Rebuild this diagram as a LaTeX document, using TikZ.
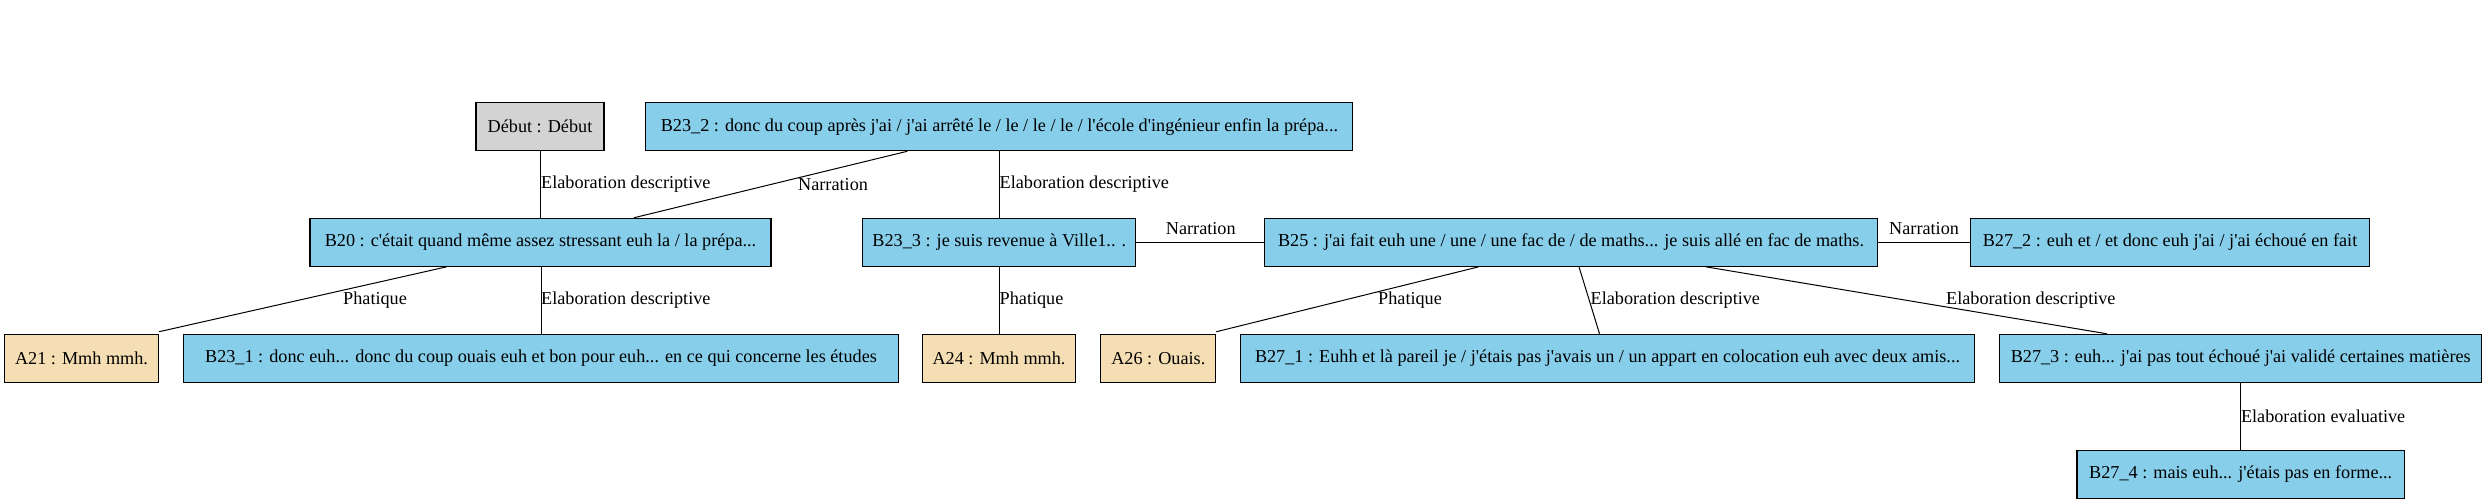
\documentclass[tikz,border=0pt]{standalone}
\usepackage{fontspec}
\setmainfont{Liberation Serif}[Ligatures=TeXOff]
\begin{document}
\begin{tikzpicture}[x=1bp,y=-1bp,
  every node/.style={font=\fontsize{18.2bp}{22bp}\selectfont},
  box/.style={draw=black,line width=1.1bp,minimum height=48bp,inner sep=0pt,align=center},
  blue/.style={box,fill=bluebox},
  wheat/.style={box,fill=wheatbox},
  gray/.style={box,fill=graybox},
  lab/.style={anchor=west,inner sep=0pt},
  edge/.style={draw=black,line width=1bp}]
\definecolor{bluebox}{HTML}{87CEEB}
\definecolor{wheatbox}{HTML}{F5DEB3}
\definecolor{graybox}{HTML}{D3D3D3}
\useasboundingbox (0,0) rectangle (2487,504);
% nodes
\node[gray,minimum width=128bp] (debut) at (540,126.7) {Début : Début};
\node[blue,minimum width=707bp] (b232) at (999.4,126.7) {B23\_2 : donc du coup après j'ai / j'ai arrêté le / le / le / le / l'école d'ingénieur enfin la prépa...};
\node[blue,minimum width=461bp] (b20) at (540.5,242.3) {B20 : c'était quand même assez stressant euh la / la prépa...};
\node[blue,minimum width=273bp] (b233) at (999.3,242.3) {B23\_3 : je suis revenue à Ville1.. .};
\node[blue,minimum width=613.5bp] (b25) at (1571,242.3) {B25 : j'ai fait euh une / une / une fac de / de maths... je suis allé en fac de maths.};
\node[blue,minimum width=399.4bp] (b272) at (2170,242.3) {B27\_2 : euh et / et donc euh j'ai / j'ai échoué en fait};
\node[wheat,minimum width=153.8bp] (a21) at (81.5,358.3) {A21 : Mmh mmh.};
\node[blue,minimum width=714.7bp] (b231) at (541,358.3) {B23\_1 : donc euh... donc du coup ouais euh et bon pour euh... en ce qui concerne les études};
\node[wheat,minimum width=153.3bp] (a24) at (999,358.3) {A24 : Mmh mmh.};
\node[wheat,minimum width=114.8bp] (a26) at (1158.3,358.3) {A26 : Ouais.};
\node[blue,minimum width=734.2bp] (b271) at (1607.5,358.3) {B27\_1 : Euhh et là pareil je / j'étais pas j'avais un / un appart en colocation euh avec deux amis...};
\node[blue,minimum width=482.1bp] (b273) at (2240.7,358.3) {B27\_3 : euh... j'ai pas tout échoué j'ai validé certaines matières};
\node[blue,minimum width=327.4bp] (b274) at (2240.7,474.5) {B27\_4 : mais euh... j'étais pas en forme...};
% edges
\draw[edge] (debut.south) -- (debut.south |- b20.north);
\draw[edge] ([xshift=-92bp]b232.south) -- ([xshift=93.5bp]b20.north);
\draw[edge] (b232.south) -- (b232.south |- b233.north);
\draw[edge] ([xshift=-94bp]b20.south) -- ([yshift=2bp]a21.north east);
\draw[edge] ([xshift=0.5bp]b231.north |- b20.south) -- ([xshift=0.5bp]b231.north);
\draw[edge] (b233.east) -- (b25.west);
\draw[edge] (b233.south) -- (b233.south |- a24.north);
\draw[edge] ([xshift=-92.4bp]b25.south) -- ([yshift=2bp]a26.north east);
\draw[edge] ([xshift=8bp]b25.south) -- ([xshift=-8bp]b271.north);
\draw[edge] ([xshift=135bp]b25.south) -- ([xshift=-134bp]b273.north);
\draw[edge] (b25.east) -- (b272.west);
\draw[edge] (b273.south) -- (b274.north);
% edge labels
\node[lab] (l1) at (541,184.3) {Elaboration descriptive};
\node[lab] (l2) at (798,184.3) {Narration};
\node[lab] (l3) at (999.5,184.3) {Elaboration descriptive};
\node[lab] (l4) at (343,300) {Phatique};
\node[lab] (l5) at (541,300) {Elaboration descriptive};
\node[lab] (l6) at (1165.7,228.3) {Narration};
\node[lab] (l7) at (999.5,300) {Phatique};
\node[lab] (l8) at (1378,300) {Phatique};
\node[lab] (l9) at (1590.5,300) {Elaboration descriptive};
\node[lab] (l10) at (1946,300) {Elaboration descriptive};
\node[lab] (l11) at (1889,228.3) {Narration};
\node[lab] (l12) at (2240.8,416) {Elaboration evaluative};
\end{tikzpicture}
\end{document}
